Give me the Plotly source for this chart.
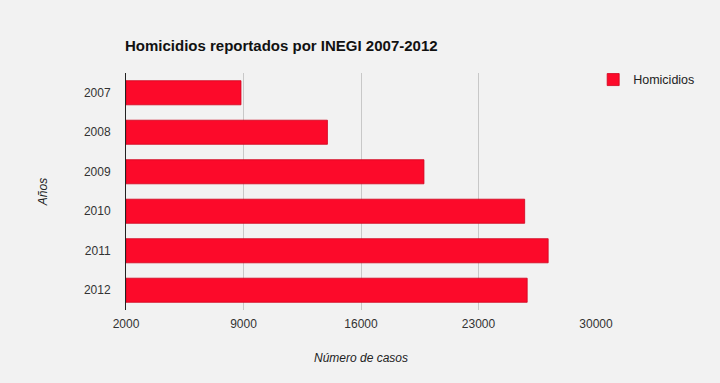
import plotly.graph_objects as go

years = ["2007", "2008", "2009", "2010", "2011", "2012"]
homicidios = [8850, 14000, 19750, 25750, 27150, 25900]
x_ticks = [2000, 9000, 16000, 23000, 30000]
axis_min = 2000

BAR = "#fc0a2a"
BG = "#f2f2f2"
FONT = "Liberation Sans, Arial, sans-serif"

fig = go.Figure()
fig.add_trace(go.Bar(
    x=[v - axis_min for v in homicidios], base=[axis_min] * len(homicidios),
    y=years, orientation="h", name="Homicidios",
    marker=dict(color=BAR, line=dict(color="#d0001c", width=0.8)),
))

fig.update_layout(
    width=720, height=383,
    paper_bgcolor=BG, plot_bgcolor=BG,
    margin=dict(l=126, r=124, t=73, b=73),
    font=dict(family=FONT, size=12, color="#222"),
    bargap=0.39,
    showlegend=True,
    legend=dict(x=0.994, y=1.034, xanchor="left", yanchor="top",
                bgcolor="rgba(0,0,0,0)", font=dict(size=12.5, color="#222"),
                itemwidth=30),
    title=dict(text="<b>Homicidios reportados por INEGI 2007-2012</b>",
               x=125/720, xanchor="left", y=1-46/383, yanchor="middle",
               font=dict(size=15, color="#111")),
    xaxis=dict(range=[axis_min, 30000], tickvals=x_ticks,
               ticktext=[str(t) for t in x_ticks],
               showgrid=True, gridcolor="#c8c8c8", gridwidth=1,
               zeroline=False, showline=False, ticks="",
               ticklabelstandoff=5,
               tickfont=dict(size=12, color="#333"),
               title=dict(text="<i>Número de casos</i>", standoff=23,
                          font=dict(size=12, color="#222"))),
    yaxis=dict(categoryorder="array", categoryarray=years, autorange="reversed",
               showgrid=False, showline=True, linecolor="#222", linewidth=1,
               ticks="", ticklabelstandoff=12,
               tickfont=dict(size=12, color="#333"),
               title=dict(text="<i>Años</i>", standoff=33,
                          font=dict(size=12, color="#222"))),
)
fig.write_html("out.html", config={"displayModeBar": False},
               post_script="document.body.style.margin='0';document.body.style.background='#f2f2f2';")
